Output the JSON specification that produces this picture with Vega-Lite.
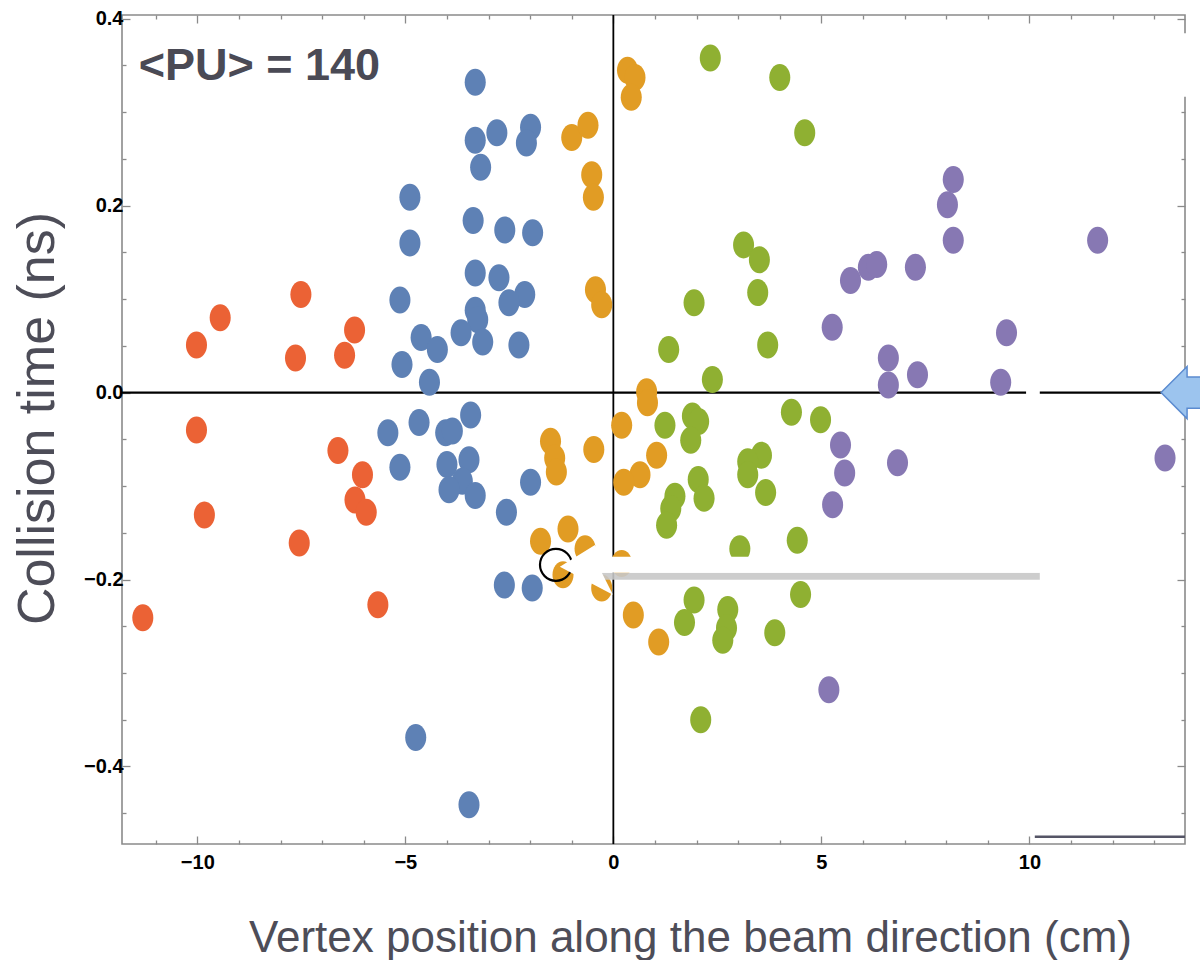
{
  "$schema": "https://vega.github.io/schema/vega-lite/v6.json",
  "width": 1063,
  "height": 829,
  "autosize": "none",
  "padding": {"left": 122, "top": 15, "right": 15, "bottom": 116},
  "background": "white",
  "config": {
    "view": {"stroke": "#8a8a8a", "strokeWidth": 1.6},
    "axis": {"domain": false, "grid": false, "tickColor": "#8a8a8a", "tickWidth": 1.3, "labelFont": "Liberation Sans", "labelFontSize": 20, "labelFontWeight": "bold", "labelColor": "#000000", "labelOverlap": false, "labelFlush": false, "titleFont": "Liberation Sans", "titleFontWeight": "normal", "titleColor": "#4d4d58"}
  },
  "datasets": {
    "pts": [
      {"g":"1","x":-11.31,"y":-0.241},{"g":"1","x":-10.02,"y":0.051},{"g":"1","x":-10.02,"y":-0.040},{"g":"1","x":-9.83,"y":-0.131},{"g":"1","x":-9.45,"y":0.080},{"g":"1","x":-7.51,"y":0.105},{"g":"1","x":-7.64,"y":0.037},{"g":"1","x":-7.55,"y":-0.161},{"g":"1","x":-6.46,"y":0.040},{"g":"1","x":-6.22,"y":0.067},{"g":"1","x":-6.62,"y":-0.062},{"g":"1","x":-6.03,"y":-0.088},{"g":"1","x":-6.21,"y":-0.115},{"g":"1","x":-5.94,"y":-0.128},{"g":"1","x":-5.66,"y":-0.227},
      {"g":"2","x":-3.32,"y":0.332},{"g":"2","x":-2.80,"y":0.278},{"g":"2","x":-3.32,"y":0.270},{"g":"2","x":-1.99,"y":0.284},{"g":"2","x":-2.09,"y":0.267},{"g":"2","x":-3.19,"y":0.241},{"g":"2","x":-4.89,"y":0.209},{"g":"2","x":-3.37,"y":0.184},{"g":"2","x":-2.61,"y":0.174},{"g":"2","x":-1.94,"y":0.171},{"g":"2","x":-4.89,"y":0.160},{"g":"2","x":-3.32,"y":0.128},{"g":"2","x":-2.75,"y":0.123},{"g":"2","x":-2.13,"y":0.105},{"g":"2","x":-2.51,"y":0.096},{"g":"2","x":-5.13,"y":0.099},{"g":"2","x":-3.32,"y":0.088},{"g":"2","x":-3.26,"y":0.078},{"g":"2","x":-3.14,"y":0.054},{"g":"2","x":-2.27,"y":0.051},{"g":"2","x":-3.66,"y":0.064},{"g":"2","x":-4.62,"y":0.059},{"g":"2","x":-4.23,"y":0.046},{"g":"2","x":-5.08,"y":0.030},{"g":"2","x":-4.42,"y":0.011},{"g":"2","x":-3.43,"y":-0.024},{"g":"2","x":-4.67,"y":-0.032},{"g":"2","x":-4.03,"y":-0.043},{"g":"2","x":-3.87,"y":-0.041},{"g":"2","x":-5.42,"y":-0.043},{"g":"2","x":-4.00,"y":-0.077},{"g":"2","x":-3.47,"y":-0.072},{"g":"2","x":-3.63,"y":-0.095},{"g":"2","x":-3.95,"y":-0.104},{"g":"2","x":-3.32,"y":-0.110},{"g":"2","x":-5.13,"y":-0.080},{"g":"2","x":-1.99,"y":-0.096},{"g":"2","x":-2.57,"y":-0.128},{"g":"2","x":-2.62,"y":-0.206},{"g":"2","x":-1.95,"y":-0.209},{"g":"2","x":-4.75,"y":-0.369},{"g":"2","x":-3.47,"y":-0.441},
      {"g":"3","x":0.34,"y":0.345},{"g":"3","x":0.52,"y":0.337},{"g":"3","x":0.43,"y":0.316},{"g":"3","x":-1.00,"y":0.273},{"g":"3","x":-0.61,"y":0.286},{"g":"3","x":-0.52,"y":0.233},{"g":"3","x":-0.48,"y":0.209},{"g":"3","x":-0.43,"y":0.110},{"g":"3","x":-0.28,"y":0.094},{"g":"3","x":0.80,"y":0.001},{"g":"3","x":0.82,"y":-0.011},{"g":"3","x":0.20,"y":-0.035},{"g":"3","x":-1.51,"y":-0.052},{"g":"3","x":-1.41,"y":-0.070},{"g":"3","x":-1.37,"y":-0.085},{"g":"3","x":-0.47,"y":-0.061},{"g":"3","x":1.04,"y":-0.067},{"g":"3","x":0.64,"y":-0.088},{"g":"3","x":0.25,"y":-0.096},{"g":"3","x":-1.75,"y":-0.159},{"g":"3","x":-1.09,"y":-0.146},{"g":"3","x":-0.68,"y":-0.167},{"g":"3","x":-1.21,"y":-0.195},{"g":"3","x":0.20,"y":-0.183},{"g":"3","x":-0.28,"y":-0.209},{"g":"3","x":0.48,"y":-0.238},{"g":"3","x":1.09,"y":-0.267},
      {"g":"4","x":2.33,"y":0.358},{"g":"4","x":4.00,"y":0.337},{"g":"4","x":4.60,"y":0.278},{"g":"4","x":3.13,"y":0.158},{"g":"4","x":3.51,"y":0.142},{"g":"4","x":3.47,"y":0.107},{"g":"4","x":1.94,"y":0.096},{"g":"4","x":1.33,"y":0.046},{"g":"4","x":3.71,"y":0.051},{"g":"4","x":2.38,"y":0.014},{"g":"4","x":1.24,"y":-0.035},{"g":"4","x":1.90,"y":-0.025},{"g":"4","x":2.05,"y":-0.031},{"g":"4","x":1.86,"y":-0.051},{"g":"4","x":4.28,"y":-0.021},{"g":"4","x":4.98,"y":-0.029},{"g":"4","x":3.56,"y":-0.067},{"g":"4","x":3.23,"y":-0.074},{"g":"4","x":3.23,"y":-0.088},{"g":"4","x":3.66,"y":-0.107},{"g":"4","x":2.04,"y":-0.093},{"g":"4","x":2.18,"y":-0.113},{"g":"4","x":1.48,"y":-0.111},{"g":"4","x":1.38,"y":-0.124},{"g":"4","x":1.28,"y":-0.142},{"g":"4","x":4.42,"y":-0.158},{"g":"4","x":3.04,"y":-0.167},{"g":"4","x":4.50,"y":-0.216},{"g":"4","x":1.94,"y":-0.222},{"g":"4","x":1.71,"y":-0.246},{"g":"4","x":2.75,"y":-0.232},{"g":"4","x":2.72,"y":-0.252},{"g":"4","x":2.63,"y":-0.265},{"g":"4","x":3.88,"y":-0.257},{"g":"4","x":2.10,"y":-0.350},
      {"g":"5","x":8.17,"y":0.228},{"g":"5","x":8.03,"y":0.201},{"g":"5","x":8.17,"y":0.163},{"g":"5","x":11.64,"y":0.163},{"g":"5","x":5.70,"y":0.120},{"g":"5","x":6.13,"y":0.134},{"g":"5","x":6.33,"y":0.137},{"g":"5","x":7.26,"y":0.134},{"g":"5","x":5.26,"y":0.070},{"g":"5","x":9.45,"y":0.064},{"g":"5","x":6.61,"y":0.037},{"g":"5","x":7.31,"y":0.019},{"g":"5","x":6.61,"y":0.008},{"g":"5","x":9.31,"y":0.011},{"g":"5","x":5.46,"y":-0.056},{"g":"5","x":5.56,"y":-0.086},{"g":"5","x":6.83,"y":-0.075},{"g":"5","x":5.27,"y":-0.120},{"g":"5","x":13.26,"y":-0.070},{"g":"5","x":5.18,"y":-0.318}
    ]
  },
  "resolve": {"axis": {"x": "independent", "y": "independent"}},
  "layer": [
    {
      "data": {"values": [{"v": 0}]},
      "mark": {"type": "rule", "color": "#000000", "strokeWidth": 1.8},
      "encoding": {
        "x": {"field": "v", "type": "quantitative", "scale": {"domain": [-11.81, 13.74], "nice": false, "zero": false},
          "axis": {"orient": "top", "values": [-11,-10,-9,-8,-7,-6,-5,-4,-3,-2,-1,0,1,2,3,4,5,6,7,8,9,10,11,12,13], "labels": false, "title": null,
            "tickSize": {"condition": {"test": "datum.value % 5 === 0", "value": -8}, "value": -4}}}
      }
    },
    {
      "data": {"values": [{"v": 0}]},
      "mark": {"type": "rule", "color": "#000000", "strokeWidth": 2.2},
      "encoding": {
        "y": {"field": "v", "type": "quantitative", "scale": {"domain": [-0.483, 0.404], "nice": false, "zero": false},
          "axis": {"orient": "right", "values": [-0.45,-0.4,-0.35,-0.3,-0.25,-0.2,-0.15,-0.1,-0.05,0,0.05,0.1,0.15,0.2,0.25,0.3,0.35,0.4], "labels": false, "title": null,
            "tickSize": {"condition": {"test": "abs(datum.value*5 - round(datum.value*5)) < 0.001", "value": -8}, "value": -4}}}
      }
    },
    {
      "data": {"values": [{"x1": 9.92, "x2": 10.25, "y1": 0.005, "y2": -0.005}, {"x1": 10.25, "x2": 14.2, "y1": 0.3846, "y2": 0.3164}]},
      "mark": {"type": "rect", "color": "#ffffff", "opacity": 1},
      "encoding": {
        "x": {"field": "x1", "type": "quantitative", "scale": {"domain": [-11.81, 13.74], "nice": false, "zero": false}, "axis": null},
        "x2": {"field": "x2"},
        "y": {"field": "y1", "type": "quantitative", "scale": {"domain": [-0.483, 0.404], "nice": false, "zero": false}, "axis": null},
        "y2": {"field": "y2"}
      }
    },
    {
      "data": {"values": [{"x1": 10.13, "x2": 13.74, "y": -0.4752}]},
      "mark": {"type": "rule", "color": "#555566", "strokeWidth": 2.5},
      "encoding": {
        "x": {"field": "x1", "type": "quantitative", "scale": {"domain": [-11.81, 13.74], "nice": false, "zero": false}, "axis": null},
        "x2": {"field": "x2"},
        "y": {"field": "y", "type": "quantitative", "scale": {"domain": [-0.483, 0.404], "nice": false, "zero": false}, "axis": null}
      }
    },
    {
      "data": {"name": "pts"},
      "mark": {"type": "point", "filled": true, "opacity": 1, "size": 729,
        "shape": "M0,-1C0.4308,-1,0.78,-0.5523,0.78,0C0.78,0.5523,0.4308,1,0,1C-0.4308,1,-0.78,0.5523,-0.78,0C-0.78,-0.5523,-0.4308,-1,0,-1Z"},
      "encoding": {
        "x": {"field": "x", "type": "quantitative", "scale": {"domain": [-11.81, 13.74], "nice": false, "zero": false},
          "axis": {"orient": "bottom", "values": [-11,-10,-9,-8,-7,-6,-5,-4,-3,-2,-1,0,1,2,3,4,5,6,7,8,9,10,11,12,13], "format": "d",
            "labelExpr": "datum.value % 5 === 0 ? datum.label : ''", "labelPadding": 16, "labelBaseline": "top",
            "tickSize": {"condition": {"test": "datum.value % 5 === 0", "value": -8}, "value": -4},
            "title": "Vertex position along the beam direction (cm)", "titleFontSize": 44,
            "titleX": 568, "titleY": 107, "titleAlign": "center", "titleBaseline": "alphabetic", "titleAnchor": null}},
        "y": {"field": "y", "type": "quantitative", "scale": {"domain": [-0.483, 0.404], "nice": false, "zero": false},
          "axis": {"orient": "left", "values": [-0.45,-0.4,-0.35,-0.3,-0.25,-0.2,-0.15,-0.1,-0.05,0,0.05,0.1,0.15,0.2,0.25,0.3,0.35,0.4],
            "labelExpr": "abs(datum.value*5 - round(datum.value*5)) < 0.001 ? format(datum.value, '.1f') : ''", "labelPadding": 7,
            "tickSize": {"condition": {"test": "abs(datum.value*5 - round(datum.value*5)) < 0.001", "value": -8}, "value": -4},
            "title": "Collision time (ns)", "titleFontSize": 52, "titleAngle": 270, "titleX": -69, "titleY": 403, "titleAlign": "center", "titleBaseline": "alphabetic"}},
        "color": {"field": "g", "type": "nominal", "scale": {"domain": ["1","2","3","4","5"], "range": ["#EB6235","#5E81B5","#E19C24","#8FB032","#8778B3"]}, "legend": null}
      }
    },
    {
      "data": {"values": [{"x": -1.38, "y": -0.1843}]},
      "mark": {"type": "point", "shape": "circle", "filled": false, "size": 1018, "stroke": "#000000", "strokeWidth": 2.2, "opacity": 1},
      "encoding": {
        "x": {"field": "x", "type": "quantitative", "scale": {"domain": [-11.81, 13.74], "nice": false, "zero": false}, "axis": null},
        "y": {"field": "y", "type": "quantitative", "scale": {"domain": [-0.483, 0.404], "nice": false, "zero": false}, "axis": null}
      }
    },
    {
      "data": {"values": [{"x1": -0.33, "x2": 10.25, "y1": -0.1928, "y2": -0.2003}]},
      "mark": {"type": "rect", "color": "#c8c8c8", "opacity": 0.9},
      "encoding": {
        "x": {"field": "x1", "type": "quantitative", "scale": {"domain": [-11.81, 13.74], "nice": false, "zero": false}, "axis": null},
        "x2": {"field": "x2"},
        "y": {"field": "y1", "type": "quantitative", "scale": {"domain": [-0.483, 0.404], "nice": false, "zero": false}, "axis": null},
        "y2": {"field": "y2"}
      }
    },
    {
      "data": {"values": [{"x1": -0.33, "x2": 10.25, "y1": -0.1757, "y2": -0.1928}]},
      "mark": {"type": "rect", "color": "#ffffff", "opacity": 1},
      "encoding": {
        "x": {"field": "x1", "type": "quantitative", "scale": {"domain": [-11.81, 13.74], "nice": false, "zero": false}, "axis": null},
        "x2": {"field": "x2"},
        "y": {"field": "y1", "type": "quantitative", "scale": {"domain": [-0.483, 0.404], "nice": false, "zero": false}, "axis": null},
        "y2": {"field": "y2"}
      }
    },
    {
      "data": {"values": [{"x": -0.565, "y": -0.1864}]},
      "mark": {"type": "point", "filled": true, "opacity": 1, "color": "#ffffff", "size": 3600, "shape": "M-1,0L0.17,-0.73L0.4,-0.35L0.4,0.2L0.77,0.93Z"},
      "encoding": {
        "x": {"field": "x", "type": "quantitative", "scale": {"domain": [-11.81, 13.74], "nice": false, "zero": false}, "axis": null},
        "y": {"field": "y", "type": "quantitative", "scale": {"domain": [-0.483, 0.404], "nice": false, "zero": false}, "axis": null}
      }
    },
    {
      "data": {"values": [{"x": 13.79, "y": 0}]},
      "mark": {"type": "point", "filled": true, "opacity": 1, "color": "#9cc4ee", "stroke": "#5b8bd0", "strokeWidth": 1.5, "size": 2704, "shape": "M-1,0L0,-1L0,-0.6L1,-0.6L1,0.6L0,0.6L0,1Z"},
      "encoding": {
        "x": {"field": "x", "type": "quantitative", "scale": {"domain": [-11.81, 13.74], "nice": false, "zero": false}, "axis": null},
        "y": {"field": "y", "type": "quantitative", "scale": {"domain": [-0.483, 0.404], "nice": false, "zero": false}, "axis": null}
      }
    },
    {
      "data": {"values": [{"t": "<PU> = 140", "x": -11.41, "y": 0.334}]},
      "mark": {"type": "text", "align": "left", "baseline": "alphabetic", "font": "Liberation Sans", "fontSize": 45, "fontWeight": "bold", "color": "#4a4a55"},
      "encoding": {
        "x": {"field": "x", "type": "quantitative", "scale": {"domain": [-11.81, 13.74], "nice": false, "zero": false}, "axis": null},
        "y": {"field": "y", "type": "quantitative", "scale": {"domain": [-0.483, 0.404], "nice": false, "zero": false}, "axis": null},
        "text": {"field": "t", "type": "nominal"}
      }
    }
  ]
}
